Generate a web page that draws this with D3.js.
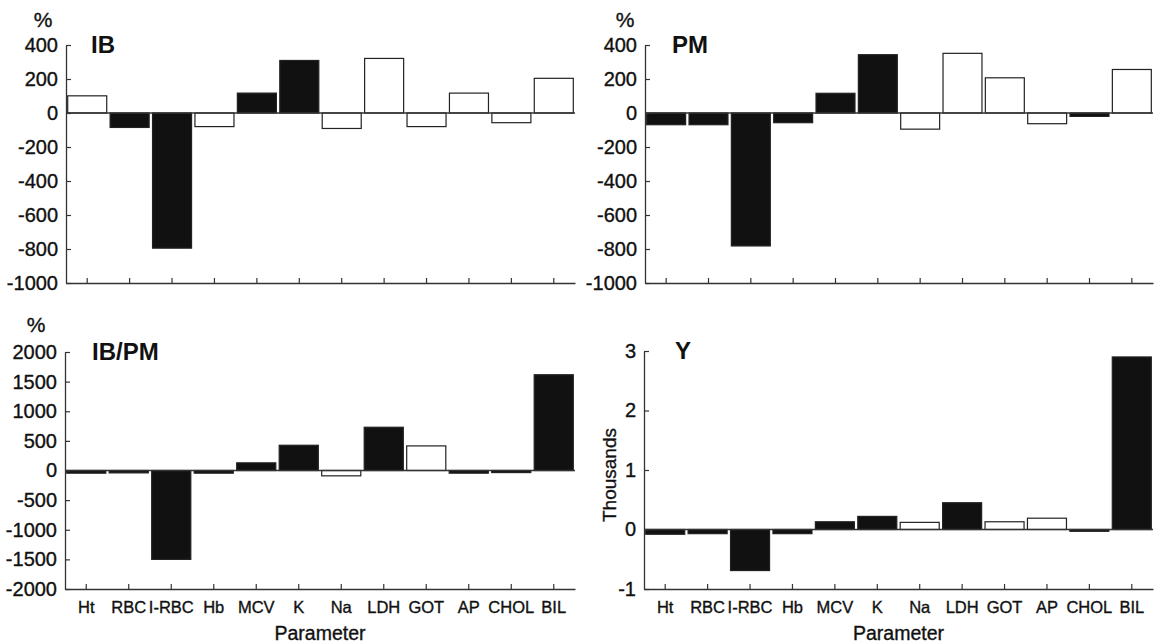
<!DOCTYPE html>
<html lang="en">
<head>
    <meta charset="UTF-8">
    <title>Parameter changes</title>
    <style>
        body {
            margin: 0;
            background-color: #ffffff;
        }
        svg {
            display: block;
            font-family: "Liberation Sans", Arial, Helvetica, sans-serif;
        }
        .lbl {
            fill: #111;
            stroke: #111;
            stroke-width: 0.35px;
        }
    </style>
    <script src="https://d3js.org/d3.v7.min.js"></script>
</head>
<body>
    <svg width="1155" height="643"></svg>
    <script>
        const categories = ["Ht", "RBC", "I-RBC", "Hb", "MCV", "K", "Na", "LDH", "GOT", "AP", "CHOL", "BIL"];

        // values, filled = black bar
        const ibValues  = [101, -85, -795, -80, 117, 309, -91, 321, -80, 117, -57, 204];
        const ibFilled  = [false, true, true, false, true, true, false, false, false, false, false, false];

        const pmValues  = [-69, -69, -782, -57, 116, 343, -95, 351, 207, -63, -20, 256];
        const pmFilled  = [true, true, true, true, true, true, false, false, false, false, true, false];

        const ibpmValues = [-45, -40, -1500, -45, 129, 426, -90, 730, 415, -45, -35, 1616];
        const ibpmFilled = [true, true, true, true, true, true, false, true, false, true, true, true];

        const yValues   = [-0.08, -0.07, -0.69, -0.07, 0.13, 0.22, 0.12, 0.45, 0.13, 0.19, -0.03, 2.9];
        const yFilled   = [true, true, true, true, true, true, false, true, false, false, true, true];

        const percentTicks = [-1000, -800, -600, -400, -200, 0, 200, 400];
        const ratioTicks = [-2000, -1500, -1000, -500, 0, 500, 1000, 1500, 2000];
        const thousandTicks = [-1, 0, 1, 2, 3];

        const svg = d3.select("svg");
        const axisColor = "#333";

        function drawPanel(p) {
            const x = d3.scaleBand()
                .domain(categories)
                .range([p.left, p.right])
                .paddingInner(0.08)
                .paddingOuter(0.04);
            const y = d3.scaleLinear()
                .domain(p.domain)
                .range([p.bottom, p.top]);

            const g = svg.append("g");

            // bars
            g.selectAll("rect")
                .data(categories)
                .enter()
                .append("rect")
                .attr("x", d => x(d))
                .attr("width", x.bandwidth())
                .attr("y", (d, i) => y(Math.max(0, p.values[i])))
                .attr("height", (d, i) => Math.abs(y(p.values[i]) - y(0)))
                .attr("fill", (d, i) => p.filled[i] ? "#111" : "#fff")
                .attr("stroke", "#222")
                .attr("stroke-width", 1.2);

            // zero line
            g.append("line")
                .attr("x1", p.left).attr("x2", p.right)
                .attr("y1", y(0)).attr("y2", y(0))
                .attr("stroke", axisColor)
                .attr("stroke-width", 1.3);

            // y axis, ticks pointing inside
            const yAxis = g.append("g")
                .attr("transform", `translate(${p.left},0)`)
                .call(d3.axisLeft(y).tickValues(p.ticks).tickSizeInner(-5).tickSizeOuter(0).tickPadding(8)
                    .tickFormat(d3.format("d")));
            yAxis.select(".domain").attr("stroke", axisColor).attr("stroke-width", 1.3);
            yAxis.selectAll(".tick line").attr("stroke", axisColor).attr("stroke-width", 1.2);
            yAxis.selectAll("text")
                .attr("class", "lbl")
                .attr("fill", null)
                .style("font-size", "20px")
                .text(d => String(d));

            // x axis along the bottom, ticks pointing up
            const xAxis = g.append("g")
                .attr("transform", `translate(0,${p.bottom})`)
                .call(d3.axisBottom(x).tickSizeInner(-5).tickSizeOuter(0).tickPadding(12));
            xAxis.select(".domain").attr("stroke", axisColor).attr("stroke-width", 1.3);
            xAxis.selectAll(".tick line").attr("stroke", axisColor).attr("stroke-width", 1.2);
            xAxis.selectAll("text")
                .attr("class", "lbl")
                .attr("fill", null)
                .style("font-size", "16.5px")
                .style("display", p.showCats ? null : "none");

            // panel title
            g.append("text")
                .attr("x", p.titleX)
                .attr("y", p.titleY)
                .attr("font-size", 24)
                .attr("font-weight", "bold")
                .attr("fill", "#111")
                .text(p.title);

            if (p.unit) {
                g.append("text")
                    .attr("class", "lbl")
                    .attr("x", p.unitX)
                    .attr("y", p.unitY)
                    .attr("text-anchor", "middle")
                    .attr("font-size", 21)
                    .text(p.unit);
            }

            if (p.showCats) {
                g.append("text")
                    .attr("class", "lbl")
                    .attr("x", (p.left + p.right) / 2)
                    .attr("y", 640)
                    .attr("text-anchor", "middle")
                    .attr("font-size", 19.5)
                    .text("Parameter");
            }
        }

        drawPanel({ left: 66, right: 575, top: 45, bottom: 283, domain: [-1000, 400],
            ticks: percentTicks, values: ibValues, filled: ibFilled,
            title: "IB", titleX: 91, titleY: 53, unit: "%", unitX: 43, unitY: 27 });

        drawPanel({ left: 645, right: 1153, top: 45, bottom: 283, domain: [-1000, 400],
            ticks: percentTicks, values: pmValues, filled: pmFilled,
            title: "PM", titleX: 672, titleY: 53, unit: "%", unitX: 625, unitY: 27 });

        drawPanel({ left: 65, right: 575, top: 352, bottom: 589, domain: [-2000, 2000],
            ticks: ratioTicks, values: ibpmValues, filled: ibpmFilled, showCats: true,
            title: "IB/PM", titleX: 92, titleY: 360, unit: "%", unitX: 36, unitY: 332 });

        drawPanel({ left: 644, right: 1153, top: 351, bottom: 589, domain: [-1, 3],
            ticks: thousandTicks, values: yValues, filled: yFilled, showCats: true,
            title: "Y", titleX: 675, titleY: 359 });

        // rotated label for the Y panel
        svg.append("text")
            .attr("class", "lbl")
            .attr("transform", "translate(616,475) rotate(-90)")
            .attr("text-anchor", "middle")
            .attr("font-size", 19)
            .text("Thousands");
    </script>
</body>
</html>
